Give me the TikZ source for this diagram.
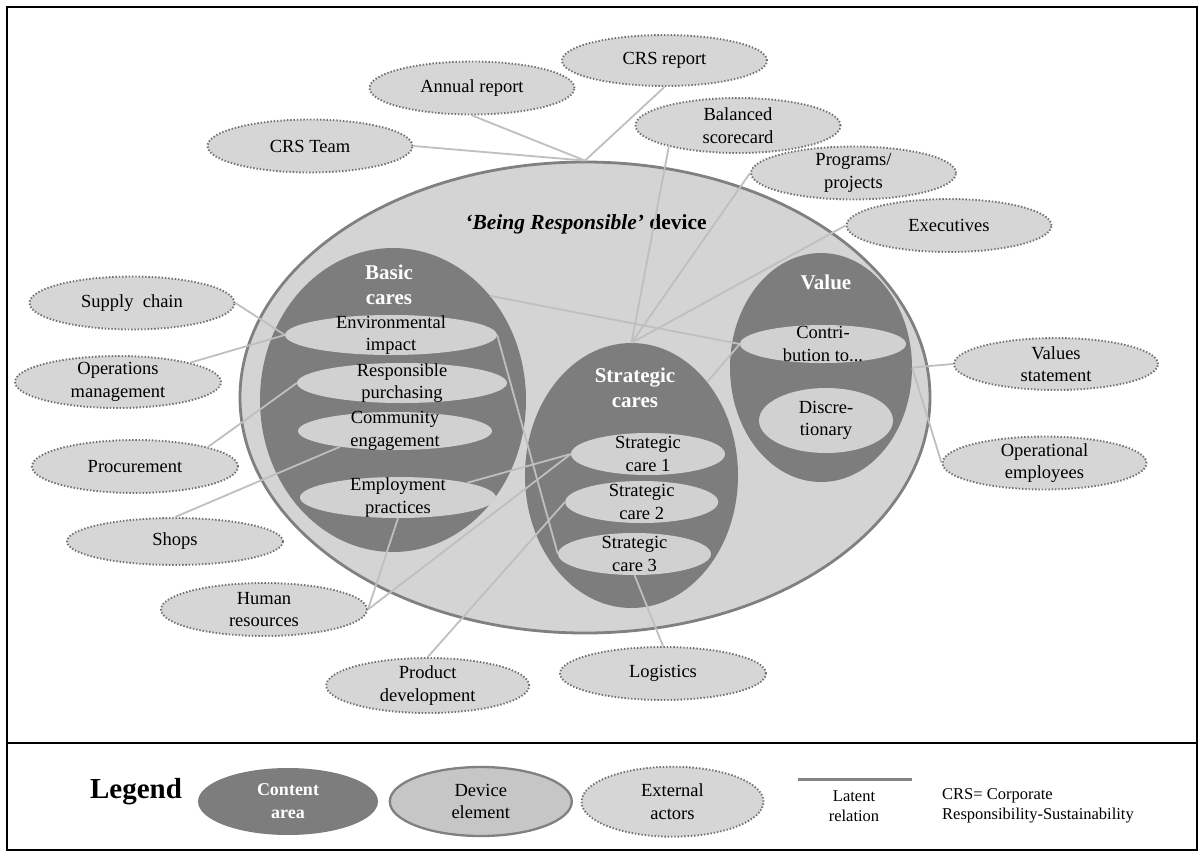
\documentclass[tikz,border=0pt]{standalone}
\usepackage{fontspec}
\setmainfont{Liberation Serif}
\usetikzlibrary{shapes.geometric}

\definecolor{devbg}{gray}{0.83}
\definecolor{devedge}{gray}{0.50}
\definecolor{areabg}{gray}{0.49}
\definecolor{elembg}{gray}{0.82}
\definecolor{extbg}{gray}{0.84}
\definecolor{extedge}{gray}{0.44}
\definecolor{relcol}{gray}{0.75}
\definecolor{legrel}{gray}{0.52}

\tikzset{
  txt/.style={font=\fontsize{18.5}{22.5}\selectfont, align=center, inner sep=0pt},
  small/.style={font=\fontsize{16.5}{20}\selectfont, inner sep=0pt},
  hdr/.style={font=\fontsize{21}{24.5}\selectfont\bfseries, text=white, align=center, inner sep=0pt},
  ext/.style={ellipse, draw=extedge, fill=extbg, line width=1.9pt,
    dash pattern=on 1.4pt off 1.9pt, inner sep=0pt,
    minimum width=205pt, minimum height=53pt},
  area/.style={ellipse, fill=areabg, inner sep=0pt},
  elem/.style={ellipse, fill=elembg, inner sep=0pt},
  rel/.style={draw=relcol, line width=1.8pt},
  t/.style={label={[txt]center:#1}}
}

\begin{document}
\begin{tikzpicture}[x=1pt, y=-1pt]
\useasboundingbox (0,0) rectangle (1203,855);

% frame and legend panel
\draw[line width=2.5pt] (7,7) rectangle (1197,850);
\draw[line width=2.5pt] (7,743) -- (1197,743);

% the device
\node[ellipse, fill=devbg, draw=devedge, line width=2.8pt, inner sep=0pt,
      minimum width=690pt, minimum height=471pt] (big) at (585,397.5) {};
\node[font=\fontsize{21.5}{25}\selectfont\bfseries, inner sep=0pt] (bigT) at (586,224)
      {\textit{‘Being Responsible’} device};

% content areas
\node[area, minimum width=266pt, minimum height=304pt] (basic) at (393,400) {};
\node[hdr] (basicT) at (389,285) {Basic\\cares};
\node[area, minimum width=213pt, minimum height=265pt] (strat) at (631.5,475.5) {};
\node[hdr] (stratT) at (635,388) {Strategic\\cares};
\node[area, minimum width=182pt, minimum height=229pt] (value) at (821,367.5) {};
\node[hdr] (valueT) at (826,282) {Value};

% device elements
\node[elem, minimum width=212pt, minimum height=40pt, t={Environmental\\impact}] (env) at (391,335) {};
\node[elem, minimum width=210pt, minimum height=40pt, t={Responsible\\purchasing}] (resp) at (402,383) {};
\node[elem, minimum width=194pt, minimum height=38pt, t={Community\\engagement}] (comm) at (395,431) {};
\node[elem, minimum width=196pt, minimum height=41pt, t={Employment\\practices}] (emp) at (398,497.5) {};
\node[elem, minimum width=154pt, minimum height=42pt, t={Strategic\\care 1}] (sc1) at (648,454) {};
\node[elem, minimum width=153pt, minimum height=42pt, t={Strategic\\care 2}] (sc2) at (641.7,502) {};
\node[elem, minimum width=153pt, minimum height=42pt, t={Strategic\\care 3}] (sc3) at (634.5,554) {};
\node[elem, minimum width=166pt, minimum height=38pt, t={Contri-\\bution to...}] (contrib) at (823,344) {};
\node[elem, minimum width=134pt, minimum height=65pt, t={Discre-\\tionary}] (disc) at (826,420.5) {};

% external actors
\node[ext, t={CRS Team}] (crsteam) at (310,146) {};
\node[ext, t={Annual report}] (annual) at (472,88) {};
\node[ext, minimum height=51pt, t={CRS report}] (crsrep) at (664.5,60.5) {};
\node[ext, minimum height=55pt, t={Balanced\\scorecard}] (bsc) at (738,125.5) {};
\node[ext, t={Programs/\\projects}] (prog) at (853.5,173) {};
\node[ext, t={Executives}] (exec) at (949,225.5) {};
\node[ext, t={Supply~ chain}] (supply) at (132,303) {};
\node[ext, minimum width=206pt, minimum height=52pt, t={Operations\\management}] (ops) at (118,382) {};
\node[ext, minimum width=206pt, t={Procurement}] (proc) at (135,466.5) {};
\node[ext, minimum width=216pt, minimum height=47pt, t={Shops}] (shops) at (175,541.5) {};
\node[ext, minimum width=206pt, t={Human\\resources}] (hr) at (264,609.5) {};
\node[ext, minimum width=203pt, minimum height=55pt, t={Product\\development}] (pd) at (427.7,685.5) {};
\node[ext, minimum width=206pt, t={Logistics}] (logi) at (663,673.5) {};
\node[ext, minimum width=204pt, minimum height=52pt, t={Values\\statement}] (vals) at (1056,364) {};
\node[ext, minimum width=204pt, t={Operational\\employees}] (oper) at (1044.5,463) {};

% latent relations
\draw[rel] (crsteam.east) -- (big.north);
\draw[rel] (annual.south) -- (big.north);
\draw[rel] (crsrep.south) -- (big.north);
\draw[rel] (bsc.197) -- (strat.north);
\draw[rel] (prog.west) -- (strat.north);
\draw[rel] (exec.west) -- (strat.north);
\draw[rel] (basic.47) -- (contrib.west);
\draw[rel] (strat.51) -- (contrib.west);
\draw[rel] (vals.west) -- (value.east);
\draw[rel] (oper.west) -- (value.east);
\draw[rel] (supply.east) -- (env.west);
\draw[rel] (ops.15) -- (env.west);
\draw[rel] (proc.15) -- (resp.west);
\draw[rel] (shops.north) -- (comm.196);
\draw[rel] (env.east) -- (sc3.west);
\draw[rel] (emp.12) -- (sc1.west);
\draw[rel] (hr.east) -- (emp.south);
\draw[rel] (hr.east) -- (sc1.west);
\draw[rel] (pd.north) -- (sc2.west);
\draw[rel] (logi.north) -- (sc3.south);

% legend
\node[font=\fontsize{29}{32}\selectfont\bfseries, inner sep=0pt] (legT) at (136,792) {Legend};
\node[area, minimum width=180pt, minimum height=67pt,
      label={[hdr, font=\fontsize{18}{23}\selectfont\bfseries]center:Content\\area}] (lgArea) at (288,801.5) {};
\node[ellipse, fill=gray!45!white, draw=devedge, line width=2.3pt, inner sep=0pt,
      minimum width=182pt, minimum height=69pt, t={Device\\element}] (lgElem) at (480.8,801.5) {};
\node[ext, minimum width=182pt, minimum height=70pt, t={External\\actors}] (lgExt) at (672.5,801.7) {};
\coordinate (lgA) at (798,779);
\coordinate (lgB) at (911.5,779);
\draw[draw=legrel, line width=3pt] (lgA) -- (lgB);
\node[small, align=center] (lgRel) at (854,806) {Latent\\relation};
\node[small, align=left, anchor=west] (lgCrs) at (942,806) {CRS= Corporate\\Responsibility-Sustainability};
\end{tikzpicture}
\end{document}
